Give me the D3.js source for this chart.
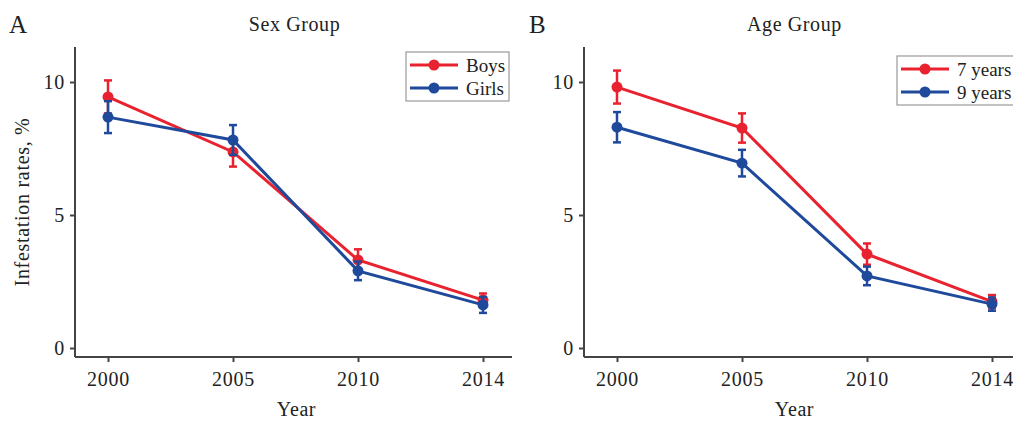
<!DOCTYPE html>
<html>
<head>
<meta charset="utf-8">
<script src="https://cdn.jsdelivr.net/npm/d3@7"></script>
<style>
  body { margin: 0; background: #fff; }
  svg text { font-family: "Liberation Serif", "DejaVu Serif", serif; fill: #222; }
</style>
</head>
<body>
<div id="chart"></div>
<script>
var years = ["2000", "2005", "2010", "2014"];
var yTicks = [0, 5, 10];

// panel A
var boys = [9.44, 7.37, 3.31, 1.80];
var boysErr = [0.62, 0.55, 0.40, 0.25];
var girls = [8.68, 7.82, 2.90, 1.62];
var girlsErr = [0.60, 0.56, 0.35, 0.30];

// panel B
var age7 = [9.81, 8.27, 3.53, 1.74];
var age7Err = [0.62, 0.55, 0.40, 0.25];
var age9 = [8.30, 6.95, 2.71, 1.65];
var age9Err = [0.57, 0.50, 0.35, 0.25];

var red = "#e8222e";
var blue = "#1f4a9c";

var width = 1013, height = 421;

var svg = d3.select("#chart").append("svg")
  .attr("width", width)
  .attr("height", height);

var panels = [
  {letter: "A", title: "Sex Group", left: 75, right: 512, x0: 108, x1: 483,
   series: [{name: "Boys", values: boys, err: boysErr, color: red},
            {name: "Girls", values: girls, err: girlsErr, color: blue}],
   legend: {x: 406, y: 52, w: 103, h: 49}},
  {letter: "B", title: "Age Group", left: 584, right: 1013, x0: 617, x1: 992,
   series: [{name: "7 years", values: age7, err: age7Err, color: red},
            {name: "9 years", values: age9, err: age9Err, color: blue}],
   legend: {x: 897, y: 56, w: 120, h: 49}}
];

var y = d3.scaleLinear().domain([0, 10]).range([348, 82]);

panels.forEach(function(p, pi) {
  var g = svg.append("g");

  var x = d3.scalePoint().domain(years).range([p.x0, p.x1]);

  // axes
  var yAxis = d3.axisLeft(y).tickValues(yTicks).tickSize(5).tickPadding(5);
  var gy = g.append("g")
    .attr("transform", "translate(" + p.left + ",0)")
    .call(yAxis);
  gy.select(".domain").attr("d", "M0,47V357");

  var xAxis = d3.axisBottom(x).tickSize(5).tickPadding(10);
  var gx = g.append("g")
    .attr("transform", "translate(0,357)")
    .call(xAxis);
  gx.select(".domain").attr("d", "M" + p.left + ",0H" + p.right);

  [gx, gy].forEach(function(a) {
    a.selectAll(".domain").attr("stroke", "#444").attr("stroke-width", 2);
    a.selectAll(".tick line").attr("stroke", "#444").attr("stroke-width", 2);
    a.selectAll(".tick text").style("font-size", "20px")
      .style("letter-spacing", "0.8px").style("fill", "#222");
  });

  // series
  var line = d3.line()
    .x(function(d, i) { return x(years[i]); })
    .y(function(d) { return y(d); });

  p.series.forEach(function(s) {
    g.append("path")
      .datum(s.values)
      .attr("d", line)
      .attr("fill", "none")
      .attr("stroke", s.color)
      .attr("stroke-width", 3);

    var eb = g.selectAll(null)
      .data(s.values)
      .enter().append("g");

    eb.append("line")
      .attr("x1", function(d, i) { return x(years[i]); })
      .attr("x2", function(d, i) { return x(years[i]); })
      .attr("y1", function(d, i) { return y(d + s.err[i]); })
      .attr("y2", function(d, i) { return y(d - s.err[i]); })
      .attr("stroke", s.color).attr("stroke-width", 2.5);

    [1, -1].forEach(function(sign) {
      eb.append("line")
        .attr("x1", function(d, i) { return x(years[i]) - 4; })
        .attr("x2", function(d, i) { return x(years[i]) + 4; })
        .attr("y1", function(d, i) { return y(d + sign * s.err[i]); })
        .attr("y2", function(d, i) { return y(d + sign * s.err[i]); })
        .attr("stroke", s.color).attr("stroke-width", 2.5);
    });

    eb.append("circle")
      .attr("cx", function(d, i) { return x(years[i]); })
      .attr("cy", function(d) { return y(d); })
      .attr("r", 5.5)
      .attr("fill", s.color);
  });

  // legend
  var L = p.legend;
  var lg = g.append("g").attr("transform", "translate(" + L.x + "," + L.y + ")");
  lg.append("rect")
    .attr("width", L.w).attr("height", L.h)
    .attr("fill", "#fff").attr("stroke", "#999").attr("stroke-width", 1.2);
  p.series.forEach(function(s, i) {
    var ry = 13 + i * 23;
    lg.append("line").attr("x1", 4).attr("x2", 52).attr("y1", ry).attr("y2", ry)
      .attr("stroke", s.color).attr("stroke-width", 3);
    lg.append("circle").attr("cx", 28).attr("cy", ry).attr("r", 5.5).attr("fill", s.color);
    lg.append("text").attr("x", 60).attr("y", ry).attr("dy", "0.35em")
      .style("font-size", "19px").text(s.name);
  });

  // titles
  g.append("text")
    .attr("x", (p.left + p.right) / 2 + (pi === 0 ? 1 : -4))
    .attr("y", 31)
    .attr("text-anchor", "middle")
    .style("font-size", "20px")
    .style("letter-spacing", "0.6px")
    .text(p.title);

  g.append("text")
    .attr("x", pi === 0 ? 9 : 529)
    .attr("y", 33)
    .style("font-size", "25px")
    .text(p.letter);

  g.append("text")
    .attr("x", (p.left + p.right) / 2 + (pi === 0 ? 3 : -4))
    .attr("y", 416)
    .attr("text-anchor", "middle")
    .style("font-size", "20px")
    .style("letter-spacing", "0.6px")
    .text("Year");
});

svg.append("text")
  .attr("transform", "translate(29,202) rotate(-90)")
  .attr("text-anchor", "middle")
  .style("font-size", "20px")
  .style("letter-spacing", "0.7px")
  .text("Infestation rates, %");
</script>
</body>
</html>
